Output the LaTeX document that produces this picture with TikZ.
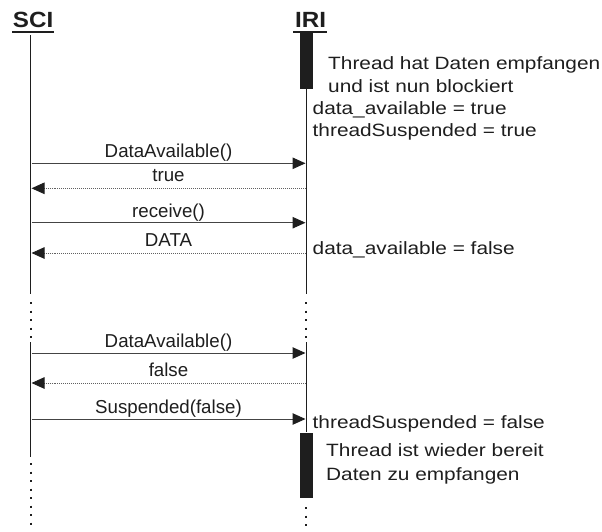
\documentclass[tikz,border=0pt]{standalone}
\usepackage{fontspec}
\setmainfont{Liberation Sans}
\newfontfamily\notefont{Liberation Sans}[FakeStretch=1.17]
\newfontfamily\headfont{Liberation Sans}[FakeStretch=1.1]
\usetikzlibrary{arrows.meta,calc}

\definecolor{ink}{HTML}{1E1E1E}
\definecolor{msg}{HTML}{444444}

\tikzset{
  head/.style={anchor=base west, inner sep=0pt, text=ink,
    font=\headfont\bfseries\fontsize{22}{26}\selectfont},
  lifeline/.style={draw=ink, line width=1.5pt},
  gap/.style={draw=ink, line width=2pt, dash pattern=on 2pt off 6.5pt},
  busy/.style={fill=ink, draw=none},
  tip/.style={-{Triangle[length=13pt,width=11.5pt,color=ink]}},
  call/.style={draw=msg, line width=1pt, tip},
  reply/.style={draw=msg!85, line width=0.9pt, dash pattern=on 1pt off 1pt, tip},
  lbl/.style={anchor=base, inner sep=0pt, text=ink,
    font=\fontsize{18.7}{22}\selectfont},
  note/.style={anchor=base west, inner sep=0pt, text=ink,
    font=\notefont\fontsize{17.8}{22}\selectfont},
}

\begin{document}
\begin{tikzpicture}[x=1pt, y=-1pt]
\useasboundingbox (0,0) rectangle (602,531);

% lifeline heads
\node[head] (sci) at (12.7,27.3) {SCI};
\node[head] (iri) at (295,27.3) {IRI};
\draw[ink, line width=1.5pt] ($(sci.base west)+(-0.7,4.7)$) -- ($(sci.base east)+(0.7,4.7)$);
\draw[ink, line width=1.5pt] ($(iri.base west)+(-2,4.7)$) -- ($(iri.base east)+(1,4.7)$);

% positions along the SCI lifeline
\coordinate (s0) at (30.7,35);
\coordinate (s1) at (30.7,294);
\coordinate (s2) at (30.7,302);
\coordinate (s3) at (30.7,338);
\coordinate (s4) at (30.7,342);
\coordinate (s5) at (30.7,457);
\coordinate (s6) at (30.7,463);
\coordinate (s7) at (30.7,527);

% positions along the IRI lifeline
\coordinate (i0) at (306.3,35);
\coordinate (i1) at (306.3,294);
\coordinate (i2) at (306.3,302);
\coordinate (i3) at (306.3,338);
\coordinate (i4) at (306.3,342);
\coordinate (i5) at (306.3,432);
\coordinate (i6) at (306.3,507);
\coordinate (i7) at (306.3,528);

% SCI lifeline
\draw[lifeline] (s0) -- (s1);
\draw[gap] (s2) -- (s3);
\draw[lifeline] (s4) -- (s5);
\draw[gap] (s6) -- (s7);

% IRI lifeline
\draw[lifeline] (i0) -- (i1);
\draw[gap] (i2) -- (i3);
\draw[lifeline] (i4) -- (i5);
\draw[gap] (i6) -- (i7);

% activation bars of IRI
\fill[busy] (299.6,33) rectangle (312.8,89);
\fill[busy] (299.6,432.5) rectangle (312.8,498);

% message endpoints
\foreach \n/\y in {m1/163.3, m2/188.3, m3/222.7, m4/253, m5/353, m6/383, m7/419}{
  \coordinate (\n s) at (31.5,\y);
  \coordinate (\n i) at (305.5,\y);
}

% messages
\draw[call]  (m1s) -- (m1i) node[lbl, pos=0.5, yshift=6pt] (l1) {DataAvailable()};
\draw[reply] (m2i) -- (m2s) node[lbl, pos=0.5, yshift=6.6pt] (l2) {true};
\draw[call]  (m3s) -- (m3i) node[lbl, pos=0.5, yshift=5.6pt] (l3) {receive()};
\draw[reply] (m4i) -- (m4s) node[lbl, pos=0.5, yshift=6.3pt] (l4) {DATA};
\draw[call]  (m5s) -- (m5i) node[lbl, pos=0.5, yshift=5.7pt] (l5) {DataAvailable()};
\draw[reply] (m6i) -- (m6s) node[lbl, pos=0.5, yshift=6.3pt] (l6) {false};
\draw[call]  (m7s) -- (m7i) node[lbl, pos=0.5, yshift=5.7pt] (l7) {Suspended(false)};

% state notes next to IRI
\node[note] (n1a) at (328,69.3) {Thread hat Daten empfangen};
\node[note] (n1b) at (328,92.7) {und ist nun blockiert};
\node[note] (n2)  at (312.5,114) {data\_available = true};
\node[note] (n3)  at (312.5,136) {threadSuspended = true};
\node[note] (n4)  at (312.5,254) {data\_available = false};
\node[note] (n5)  at (312.5,428.3) {threadSuspended = false};
\node[note] (n6a) at (326,456) {Thread ist wieder bereit};
\node[note] (n6b) at (326,480) {Daten zu empfangen};
\end{tikzpicture}
\end{document}
